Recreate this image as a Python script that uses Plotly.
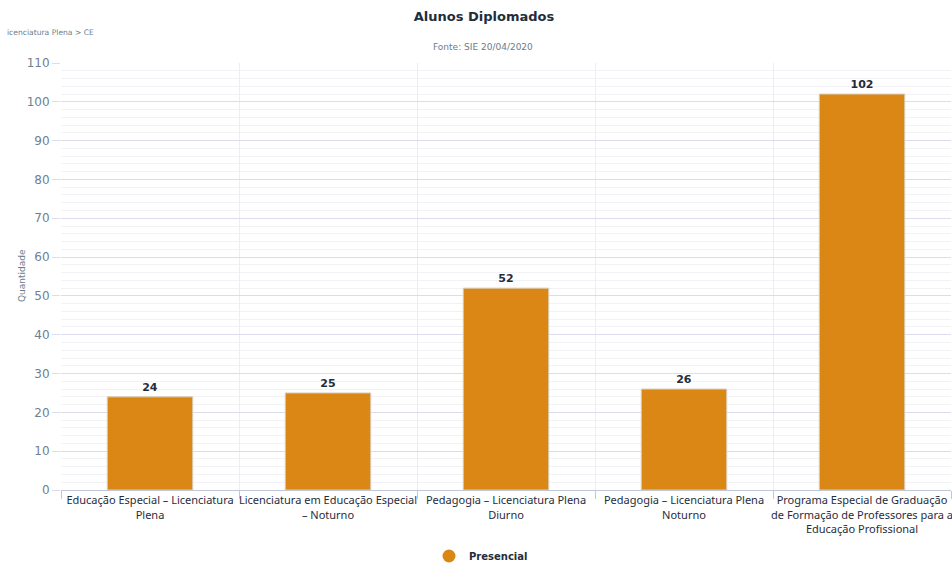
import plotly.graph_objects as go

categories = [
    "Educação Especial – Licenciatura<br>Plena",
    "Licenciatura em Educação Especial<br>– Noturno",
    "Pedagogia – Licenciatura Plena<br>Diurno",
    "Pedagogia – Licenciatura Plena<br>Noturno",
    "Programa Especial de Graduação<br>de Formação de Professores para a<br>Educação Profissional",
]
presencial = [24, 25, 52, 26, 102]
series_name = "Presencial"
title = "Alunos Diplomados"
subtitle = "Fonte: SIE 20/04/2020"
breadcrumb = "icenciatura Plena > CE"
y_title = "Quantidade"

BAR = "#DB8716"
FONT = "DejaVu Sans"
TICKFONT = "Noto Sans"

PLOT_TOP, PLOT_BOTTOM, PLOT_LEFT, PLOT_W = 63, 490, 61, 890
PH = PLOT_BOTTOM - PLOT_TOP


def py2paper(py):
    return (PLOT_BOTTOM - py) / PH


def px2paper(px):
    return (px - PLOT_LEFT) / PLOT_W


fig = go.Figure()
fig.add_trace(go.Bar(
    x=categories, y=presencial, name=series_name,
    marker=dict(color=BAR, line=dict(color="#d9cdb8", width=1)),
    width=0.48,
    text=presencial, textposition="outside", cliponaxis=False,
    textfont=dict(family=FONT, size=11, color="#1f2d3d"),
    texttemplate="<b>%{text}</b>",
    showlegend=False,
))
fig.add_trace(go.Scatter(
    x=[None], y=[None], mode="markers", name="<b>" + series_name + "</b>",
    marker=dict(color=BAR, size=13, symbol="circle"),
    showlegend=True,
))

fig.update_layout(
    width=952, height=565,
    margin=dict(l=PLOT_LEFT, r=1, t=PLOT_TOP, b=565 - PLOT_BOTTOM, autoexpand=False),
    plot_bgcolor="white", paper_bgcolor="white",
    font=dict(family=FONT),
    title=dict(text="<b>" + title + "</b>", x=484 / 952, xanchor="center",
               y=1 - 16 / 565, yanchor="middle", yref="container",
               font=dict(size=13, color="#1f2d3d", family=FONT)),
    showlegend=True,
    legend=dict(orientation="h", x=px2paper(481), xanchor="center", y=py2paper(556), yanchor="middle",
                itemwidth=30,
                font=dict(size=10, color="#1f2d3d", family=FONT)),
)

fig.add_annotation(text=subtitle, x=px2paper(483), xref="paper", y=py2paper(47), yref="paper",
                   showarrow=False, xanchor="center", yanchor="middle",
                   font=dict(size=9, color="#6b7b8c", family=FONT))
fig.add_annotation(text=breadcrumb, x=px2paper(5), xref="paper", y=py2paper(33), yref="paper",
                   showarrow=False, xanchor="left", yanchor="middle",
                   font=dict(size=7.6, color="#6b7b8c", family=FONT))
fig.add_annotation(text=y_title, x=px2paper(22), xref="paper", y=py2paper(276), yref="paper",
                   showarrow=False, xanchor="center", yanchor="middle", textangle=-90,
                   font=dict(size=9, color="#6b7b8c", family=FONT))

fig.update_xaxes(
    type="category", tickson="boundaries", showgrid=True, gridcolor="#ececf2", gridwidth=1,
    ticks="outside", ticklen=8, tickcolor="#c0c8d8",
    showline=True, linecolor="#c0c8d8", linewidth=1,
    tickangle=0, automargin=False,
    tickfont=dict(size=11, color="#1f2d3d", family=TICKFONT),
)
fig.update_yaxes(
    range=[0, 110], dtick=10, showgrid=True, gridcolor="#dcdcf0", gridwidth=1,
    ticks="outside", ticklen=8, tickcolor="#dcdcf0",
    zeroline=False, automargin=False,
    tickfont=dict(size=12, color="#6e8095", family=FONT),
    minor=dict(dtick=2, showgrid=True, gridcolor="#f2f2f6", gridwidth=1),
)

fig.write_html("out.html")
